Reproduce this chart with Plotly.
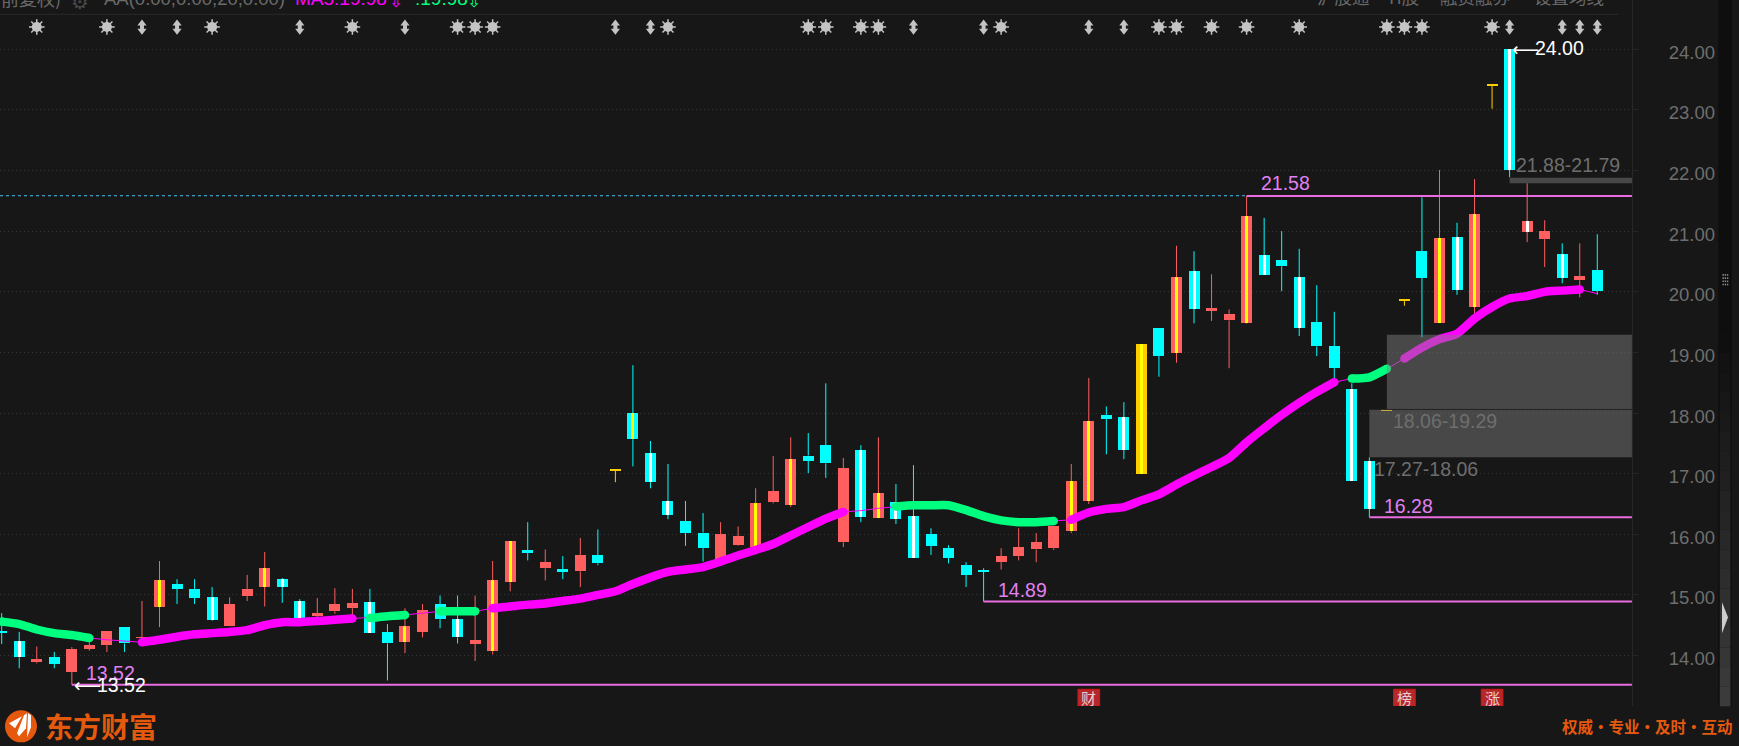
import numpy as np
import plotly.graph_objects as go

# ---------- data ----------
body_high = [14.40,14.24,13.94,13.97,14.11,14.17,14.40,14.47,14.30,15.24,15.18,15.10,14.96,14.85,15.10,15.44,15.26,14.90,14.70,14.85,14.86,14.88,14.39,14.48,14.75,14.85,14.60,14.25,15.24,15.89,15.74,15.54,15.42,15.66,15.66,17.07,18.00,17.34,16.55,16.22,16.03,16.00,15.97,16.51,16.71,17.24,17.30,17.47,17.09,17.39,16.68,16.53,16.30,16.00,15.77,15.49,15.41,15.64,15.79,15.87,16.13,16.88,17.87,17.97,17.93,19.14,19.40,20.24,20.34,19.73,19.63,21.25,20.61,20.52,20.24,19.50,19.10,18.40,17.21,18.07,19.87,20.67,20.89,20.90,21.28,23.42,24.00,21.17,21.00,20.62,20.26,20.36]
body_low = [14.38,13.97,13.89,13.86,13.73,14.11,14.17,14.20,14.29,14.80,15.10,14.95,14.58,14.48,14.98,15.13,15.13,14.60,14.65,14.73,14.78,14.37,14.20,14.22,14.39,14.60,14.30,14.19,14.07,15.21,15.69,15.44,15.39,15.39,15.52,17.05,17.57,16.86,16.32,16.02,15.77,15.59,15.82,15.79,16.53,16.48,17.21,17.17,15.87,16.28,16.27,16.25,15.61,15.81,15.61,15.33,15.39,15.54,15.64,15.75,15.77,16.05,16.55,17.90,17.39,16.99,18.94,18.99,19.72,19.70,19.53,19.48,20.28,20.42,19.40,19.10,18.74,16.88,16.42,18.05,19.85,20.23,19.48,20.03,19.75,23.40,22.01,20.99,20.87,20.23,20.19,20.01]
wick_high = [14.70,14.39,14.15,14.06,14.14,14.22,14.40,14.47,14.90,15.56,15.26,15.26,15.13,14.96,15.33,15.71,15.28,14.93,14.95,15.11,15.10,15.10,14.52,14.78,14.85,14.99,14.99,14.99,15.56,15.89,16.20,15.75,15.64,15.94,16.08,17.07,18.79,17.54,17.16,16.55,16.35,16.20,16.13,16.76,17.29,17.60,17.67,18.49,17.26,17.47,17.60,16.83,17.14,16.10,15.82,15.54,15.44,15.77,16.10,16.02,16.13,17.16,18.58,18.11,18.18,19.14,19.40,20.76,20.67,20.29,19.71,21.58,21.22,21.00,20.71,20.11,19.67,18.49,17.27,18.07,19.87,21.56,22.01,21.14,21.86,23.42,24.00,21.79,21.18,20.80,20.80,20.95]
wick_low = [14.19,13.79,13.87,13.79,13.52,14.08,14.06,14.06,14.20,14.47,14.85,14.85,14.57,14.48,14.90,14.81,14.87,14.60,14.62,14.69,14.64,14.37,13.59,14.04,14.30,14.45,14.20,13.91,14.02,15.06,15.57,15.24,15.26,15.13,15.49,16.86,17.12,16.76,16.25,15.81,15.55,15.58,15.81,15.77,16.51,16.45,17.01,16.93,15.79,16.20,16.27,16.17,15.61,15.66,15.52,15.13,14.89,15.42,15.57,15.54,15.74,16.02,16.50,17.32,17.24,16.99,18.60,18.83,19.48,19.52,18.74,19.47,20.28,20.01,19.27,18.94,18.56,16.88,16.28,18.05,19.77,19.25,19.48,19.95,19.59,23.02,21.89,20.82,20.41,20.14,19.91,19.95]
kinds = ["c","cw","r","c","r","r","r","c","r","ry","c","c","cw","r","r","ry","cw","cw","r","r","r","cw","c","ry","r","c","cw","r","ry","ry","c","r","c","r","c","gd","cy","cw","cw","c","c","r","r","ry","r","ry","c","c","r","cw","ry","cw","cw","c","c","c","c","r","r","r","r","ry","ry","c","cw","g","c","ry","cw","r","r","ry","cw","c","cw","c","c","cw","cw","gd","gd","c","ry","cw","ry","gd","cw","rw","r","cw","r","c"]
ma5 = [14.56,14.52,14.43,14.37,14.34,14.29,14.26,14.24,14.22,14.26,14.31,14.35,14.37,14.39,14.42,14.50,14.55,14.55,14.57,14.59,14.61,14.62,14.65,14.67,14.70,14.73,14.73,14.73,14.78,14.81,14.84,14.86,14.90,14.94,15.00,15.06,15.18,15.29,15.38,15.42,15.46,15.55,15.65,15.74,15.84,15.98,16.12,16.26,16.37,16.39,16.43,16.46,16.48,16.48,16.48,16.40,16.30,16.23,16.20,16.20,16.22,16.24,16.36,16.42,16.45,16.56,16.66,16.82,16.97,17.11,17.26,17.52,17.75,17.97,18.17,18.35,18.51,18.57,18.59,18.73,18.90,19.08,19.22,19.31,19.56,19.75,19.89,19.93,20.00,20.02,20.04,19.97]
green_spans = [(0,5),(21,23),(25,27),(51,60),(77,79)]
magenta_spans = [(8,20),(28,48),(61,76),(80,90)]
sun_idx = [2,6,12,20,26,27,28,38,46,47,49,50,57,66,67,69,71,74,79,80,81,85]
arrow_idx = [8,10,17,23,35,37,52,56,62,64,86,89,90,91]
level_values = [13.52,14.89,16.28,21.58]
level_start = [4,56,78,71]
zones = [(79,19.29,18.06,"18.06-19.29"),(78,18.06,17.27,"17.27-18.06"),(86,21.88,21.79,"21.88-21.79")]
badges = [(62,"财"),(80,"榜"),(85,"涨")]
tick_vals = [14,15,16,17,18,19,20,21,22,23,24]
reference_price = 21.585

# ---------- layout constants ----------
W, H = 1739, 746
PL, PR, PT, PB = 0, 1632, 14, 705.7
STEP = 17.534
X0 = 1.7
xmin, xmax = -X0/STEP, (PR-X0)/STEP
ymin, ymax = 13.168, 24.583
BG = "#171717"
RED, CYAN, GOLD, YEL, WHT = "#FF5F5F", "#00FFFF", "#FFCC00", "#FFFF00", "#FFFFFF"
MAG, GRN = "#FF00FF", "#00FF7F"
PINK = "#E96DE0"
GRAYT = "#6E6E6E"

def px(p): return p/PR
def py(p): return (PB-p)/(PB-PT)

idx = np.arange(len(kinds))
bh, bl, wh, wl = map(np.array, (body_high, body_low, wick_high, wick_low))
k = np.array(kinds)

fig = go.Figure()

# bodies
body_col = {"c":CYAN,"cw":CYAN,"cy":CYAN,"r":RED,"ry":RED,"rw":RED,"g":GOLD,"gd":GOLD}
for col in (RED,CYAN,GOLD):
    m = np.array([body_col[q]==col for q in kinds])
    fig.add_trace(go.Bar(x=idx[m],y=(bh-bl)[m],base=bl[m],width=11/STEP,marker=dict(color=col,line=dict(width=0))))
# stripes
for col,names in ((WHT,("cw","rw")),(YEL,("ry","cy","g"))):
    m = np.isin(k,names)
    fig.add_trace(go.Bar(x=idx[m],y=(bh-bl)[m],base=bl[m],width=3/STEP,marker=dict(color=col,line=dict(width=0))))
# wicks
for col in (RED,CYAN,GOLD):
    xs,ys=[],[]
    for i in idx:
        if body_col[kinds[i]]==col:
            xs += [i,i,None,i,i,None]
            ys += [wh[i],bh[i],None,bl[i],wl[i],None]
    fig.add_trace(go.Scatter(x=xs,y=ys,mode="lines",line=dict(color=col,width=1),connectgaps=False))

# reference dashed line
fig.add_trace(go.Scatter(x=[xmin,xmax],y=[reference_price]*2,mode="lines",line=dict(color="#3FC4F2",width=1,dash="3px,3px")))
# levels
for v,s in zip(level_values,level_start):
    fig.add_trace(go.Scatter(x=[s,xmax],y=[v,v],mode="lines",line=dict(color=PINK,width=2)))

# MA: thin line + thick spans
fig.add_trace(go.Scatter(x=idx,y=ma5,mode="lines",line=dict(color=MAG,width=1)))
for spans,col in ((magenta_spans,MAG),(green_spans,GRN)):
    for a,b in spans:
        fig.add_trace(go.Scatter(x=idx[a:b+1],y=ma5[a:b+1],mode="lines",line=dict(color=col,width=8.5,shape="spline",smoothing=0.6)))
        fig.add_trace(go.Scatter(x=[a,b],y=[ma5[a],ma5[b]],mode="markers",marker=dict(color=col,size=8.5,line=dict(width=0))))

# signal row
ROW = 24.368
SY = "#C4C4C4"
fig.add_trace(go.Scatter(x=sun_idx,y=[ROW]*len(sun_idx),mode="markers",marker=dict(symbol="circle",size=10,color=SY,line=dict(width=0))))
fig.add_trace(go.Scatter(x=sun_idx,y=[ROW]*len(sun_idx),mode="markers",marker=dict(symbol="asterisk-open",size=13,color=SY,line=dict(color=SY,width=1.5))))
fig.add_trace(go.Scatter(x=arrow_idx,y=[ROW+0.06]*len(arrow_idx),mode="markers",marker=dict(symbol="triangle-up",size=8,color=SY,line=dict(width=0))))
fig.add_trace(go.Scatter(x=arrow_idx,y=[ROW-0.06]*len(arrow_idx),mode="markers",marker=dict(symbol="triangle-down",size=8,color=SY,line=dict(width=0))))
fig.add_trace(go.Scatter(x=arrow_idx,y=[ROW]*len(arrow_idx),mode="markers",marker=dict(symbol="square",size=4,color=SY,line=dict(width=0))))

shapes=[]
def prect(x0,y0,x1,y1,col,layer="above"):
    shapes.append(dict(type="rect",xref="paper",yref="paper",x0=px(x0),x1=px(x1),y0=py(y0),y1=py(y1),fillcolor=col,line=dict(width=0),layer=layer))
def pline(x0,y0,x1,y1,col,w=1):
    shapes.append(dict(type="line",xref="paper",yref="paper",x0=px(x0),x1=px(x1),y0=py(y0),y1=py(y1),line=dict(color=col,width=w),layer="above"))

# zones
for s,hi,lo,_ in zones:
    shapes.append(dict(type="rect",xref="x",yref="y",x0=s,x1=xmax,y0=lo,y1=hi,fillcolor="rgba(128,128,128,0.47)",line=dict(width=0),layer="above"))
shapes.append(dict(type="line",xref="x",yref="y",x0=78,x1=xmax,y0=18.06,y1=18.06,line=dict(color="#222222",width=1),layer="above"))
# badges
for i,_ in badges:
    shapes.append(dict(type="rect",xref="x",yref="y",x0=i-0.62,x1=i+0.62,y0=ymin,y1=13.444,fillcolor="#B7282B",line=dict(color="#CC1515",width=1),layer="above"))
# frame lines
pline(1632.4,0,1632.4,706,"#2A2A2A")
pline(0,14.3,1619,14.3,"#2A2A2A")
# scrollbar
n=36
for j in range(n):
    y0=706*j/n; y1=706*(j+1)/n
    t=y0/706
    g=int(14+ (0 if t<0.45 else (t-0.45)/0.55*48))
    prect(1719.5,y0,1731,y1,f"rgb({g},{g},{g})")
pline(1719,0,1719,706,"#0A0A0A")
pline(1731,0,1731,706,"#0A0A0A")
for r in range(4):
    for c in range(3):
        prect(1722.5+c*2.2,274+r*3.2,1723.9+c*2.2,275.6+r*3.2,"#8A8A8A")
shapes.append(dict(type="path",xref="paper",yref="paper",layer="above",fillcolor="#CFCFCF",line=dict(width=0),
    path=f"M {px(1722)} {py(602)} L {px(1728)} {py(617)} L {px(1722)} {py(633)} Z"))
# logo
shapes.append(dict(type="circle",xref="paper",yref="paper",layer="above",x0=px(5),x1=px(37),y0=py(742),y1=py(710),fillcolor="#E5590F",line=dict(width=0)))
for pts in ([(9,723),(22,716),(15,728)],[(17,733),(24,715),(27,713),(26,728),(19,736)],[(28,713),(31,715),(31,727),(27,737)]):
    p="M "+" L ".join(f"{px(a)} {py(b)}" for a,b in pts)+" Z"
    shapes.append(dict(type="path",xref="paper",yref="paper",layer="above",path=p,fillcolor="#FFFFFF",line=dict(width=0)))

ann=[]
def ptext(x,y,t,col,size,xa="left",fam="Liberation Sans"):
    ann.append(dict(xref="paper",yref="paper",x=px(x),y=py(y),text=t,showarrow=False,xanchor=xa,yanchor="middle",
                    font=dict(color=col,size=size,family=fam),align="left"))
def dtext(i,v,t,col,dx,dy,size=19.5,fam="Liberation Sans"):
    ann.append(dict(xref="x",yref="y",x=i,y=v,text=t,showarrow=False,xanchor="left",yanchor="middle",xshift=dx,yshift=dy,
                    font=dict(color=col,size=size,family=fam)))
LAB="#E180F2"
dtext(71,21.58,"21.58",LAB,12,12.7)
dtext(56,14.89,"14.89",LAB,12.5,11.3)
dtext(78,16.28,"16.28",LAB,12.6,11.7)
dtext(4,13.52,"13.52",LAB,12.5,12)
dtext(4,13.52,"13.52",WHT,23.5,0)
dtext(86,24.00,"24.00",WHT,23.5,1)
dtext(4,13.52,"⟵",WHT,0,0,size=19,fam="DejaVu Sans")
dtext(86,24.00,"⟵",WHT,0,0,size=19,fam="DejaVu Sans")
dtext(79,18.06,zones[0][3],GRAYT,4,-12)
dtext(78,17.27,zones[1][3],GRAYT,3,-12)
dtext(86,21.88,zones[2][3],GRAYT,4,13)
for i,t in badges:
    ann.append(dict(xref="x",yref="y",x=i,y=13.305,text=t,showarrow=False,font=dict(color="#E8CFCF",size=15,family="Noto Sans CJK SC")))

HT="#6A6A6A"
CJK="Noto Sans CJK SC"
ptext(63,-2,"，前复权)",HT,18,xa="right",fam=CJK)
ptext(80,2,"⚙",  "#4A4A4A",20,xa="center",fam="DejaVu Sans")
ptext(101.7,-1,"AA(0.00,0.00,20,0.00)",HT,18.5)
ptext(293,-1,"MA5:19.98",MAG,19)
ptext(396,1,"⇩",MAG,17,xa="center",fam="DejaVu Sans")
ptext(413,-1,":19.98",GRN,19)
ptext(474,1,"⇩",GRN,17,xa="center",fam="DejaVu Sans")
for x,t in ((1315,"沪股通"),(1387,"H股"),(1438,"融资融券"),(1532,"设置均线")):
    ptext(x,-3,t,HT,17.5,fam=CJK)
OR="#E5590F"
ptext(43,726,"<b>东方财富</b>",OR,28,fam=CJK)
ptext(1734.5,726,"<b>权威·专业·及时·互动</b>",OR,15.5,xa="right",fam=CJK)

fig.update_layout(
    width=W,height=H,autosize=False,
    margin=dict(l=PL,r=W-PR,t=PT,b=H-PB,pad=0),
    paper_bgcolor=BG,plot_bgcolor=BG,showlegend=False,barmode="overlay",bargap=0,
    shapes=shapes,annotations=ann,hovermode=False,
    xaxis=dict(range=[xmin,xmax],visible=False,showgrid=False,zeroline=False),
    yaxis=dict(range=[ymin,ymax],side="right",tickvals=tick_vals,tickformat=".2f",
               showgrid=True,gridcolor="#343434",griddash="1px,3px",gridwidth=1,zeroline=False,showline=False,
               ticks="outside",ticklen=5,tickcolor="#262626",
               tickfont=dict(color=GRAYT,size=18.5,family="Liberation Sans"),ticklabelstandoff=27,ticklabelshift=3),
)
fig.write_html("out.html",config={"displayModeBar":False},post_script="document.body.style.margin='0';document.body.style.overflow='hidden';document.body.style.background='#171717';")
